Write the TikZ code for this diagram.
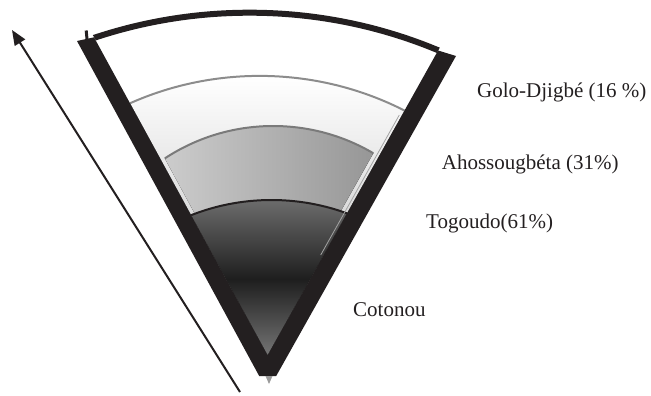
\documentclass[tikz,border=0pt]{standalone}
\usepackage{fontspec}
\setmainfont{Liberation Serif}
\usetikzlibrary{arrows.meta}
\definecolor{barblack}{HTML}{231F20}
\definecolor{layA}{HTML}{B4B4B4}
\definecolor{layBl}{HTML}{CDCDCD}
\definecolor{layBr}{HTML}{888888}
\definecolor{layCt}{HTML}{6E6E6E}
\definecolor{layCm}{HTML}{1E1E1E}
\definecolor{layCb}{HTML}{7A7A7A}
\definecolor{arcA}{HTML}{8C8C8C}
\definecolor{arcB}{HTML}{7A7A7A}
\definecolor{tipgray}{HTML}{9A9A9A}
\begin{document}
\begin{tikzpicture}[x=1pt,y=-1pt,
  lbl/.style={anchor=base west, inner sep=0pt, font=\fontsize{21}{25}\selectfont, text=barblack},
  arcline/.style={line width=2pt}]
\useasboundingbox (0,0) rectangle (651,396);
% wedge corners
\coordinate (IA) at (267.6,355.2);
\coordinate (IL) at (62.8,-20);
\coordinate (IR) at (477.7,-20);
\coordinate (BA) at (265.9,344.3);
\coordinate (BL) at (67.8,-20);
\coordinate (BR) at (470.7,-20);
\begin{scope}
  \clip (IA) -- (IL) -- (IR) -- cycle;
  % light layer (Golo-Djigbe)
  \begin{scope}
    \clip (259.6,395.6) circle[radius=319.7];
    \fill[top color=white, bottom color=layA] (40,76) rectangle (500,360);
  \end{scope}
  % medium layer (Ahossougbeta)
  \begin{scope}
    \clip (BA) -- (BL) -- (BR) -- cycle;
    \clip (273.2,323.4) circle[radius=197.4];
    \fill[left color=layBl, right color=layBr] (160,100) rectangle (430,300);
  \end{scope}
  % dark layer (Togoudo / Cotonou)
  \begin{scope}
    \clip (271.45,419.4) circle[radius=219.4];
    \fill[top color=layCt, bottom color=layCb, middle color=layCm] (170,198) rectangle (370,360);
  \end{scope}
  % boundary arcs
  \draw[arcA, arcline] (259.6,395.6) circle[radius=319.7];
  \begin{scope}
    \clip (BA) -- (BL) -- (BR) -- cycle;
    \draw[arcB, arcline] (273.2,323.4) circle[radius=197.4];
  \end{scope}
  \draw[barblack, arcline] (271.45,419.4) circle[radius=219.4];
  \draw[barblack, line width=6pt] (249.6,503.3) circle[radius=490.6];
  \draw[arcA!80, line width=0.8pt] (399.3,115) -- (320.7,255);
\end{scope}
% V frame
\fill[barblack] (77,41) -- (94,37.3) -- (IA) -- (438.1,50.5) -- (456,56)
  -- (276.2,376) -- (259.2,376) -- cycle;
\draw[barblack, line width=3pt] (87,39) -- (86.2,30.5);
\fill[tipgray] (265.5,376) -- (272.5,376) -- (269,384) -- cycle;
% arrow
\coordinate (arrS) at (240,392);
\coordinate (arrE) at (12,30);
\draw[barblack, line width=2pt, -{Triangle[length=15pt,width=12pt]}] (arrS) -- (arrE);
% labels
\node[lbl] (golo) at (477,97) {Golo-Djigbé (16 \%)};
\node[lbl] (aho) at (441.7,169) {Ahossougbéta (31\%)};
\node[lbl] (togo) at (426,228.3) {Togoudo(61\%)};
\node[lbl] (coto) at (353,316) {Cotonou};
\end{tikzpicture}
\end{document}
